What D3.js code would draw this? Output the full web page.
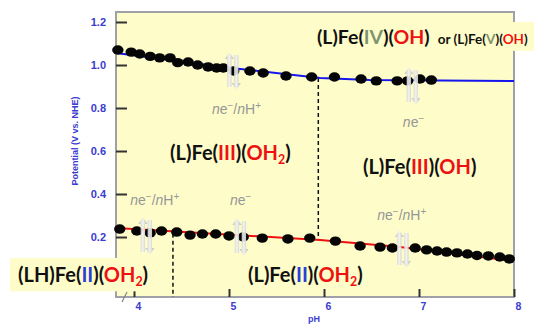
<!DOCTYPE html>
<html>
<head>
<meta charset="utf-8" />
<script src="https://d3js.org/d3.v7.min.js"></script>
<style>
  body { margin: 0; background: #fff; }
</style>
</head>
<body>
<div id="chart"></div>
<script>
// data
const xTicks = [4, 5, 6, 7, 8];
const yTicks = [0.2, 0.4, 0.6, 0.8, 1.0, 1.2];

const upperPH = [3.83, 3.97, 4.06, 4.17, 4.27, 4.38, 4.46, 4.57, 4.67, 4.78, 4.87, 4.94, 5.05, 5.22, 5.36, 5.60, 5.87, 6.11, 6.39, 6.55, 6.77, 6.88, 7.01, 7.13];
const upperE  = [1.070, 1.060, 1.051, 1.040, 1.033, 1.033, 1.011, 1.014, 1.000, 0.991, 0.986, 0.986, 0.972, 0.972, 0.963, 0.949, 0.944, 0.944, 0.935, 0.926, 0.926, 0.926, 0.935, 0.930];

const lowerPH = [3.85, 4.03, 4.17, 4.29, 4.45, 4.59, 4.72, 4.86, 5.00, 5.15, 5.35, 5.62, 5.85, 6.12, 6.38, 6.59, 6.72, 6.96, 7.08, 7.19, 7.29, 7.40, 7.51, 7.61, 7.73, 7.85, 7.95];
const lowerE  = [0.237, 0.228, 0.219, 0.228, 0.223, 0.209, 0.214, 0.214, 0.205, 0.200, 0.195, 0.191, 0.195, 0.181, 0.158, 0.153, 0.149, 0.149, 0.140, 0.135, 0.130, 0.126, 0.121, 0.114, 0.112, 0.107, 0.098];

const bluePH = [3.81, 4.98, 5.96, 6.48, 8.0];
const blueE  = [1.056, 0.988, 0.940, 0.930, 0.926];
const redPH  = [3.81, 5.96, 6.80, 8.0];
const redE   = [0.242, 0.186, 0.153, 0.088];

const dashPH  = [5.94, 4.41];
const dashTop = [0.940, 0.215];
const dashBot = [0.187, -0.079];

const arrowPH = [5.04, 6.93, 4.13, 5.12, 6.83];
const arrowE  = [0.972, 0.902, 0.205, 0.200, 0.144];

const stepText = ["ne−/nH+", "ne−", "ne−/nH+", "ne−", "ne−/nH+"];
const stepPH   = [4.82, 6.83, 3.96, 5.01, 6.56];
const stepE    = [0.772, 0.712, 0.349, 0.349, 0.279];
</script>
<script>
const W = 546, H = 324;
const margin = {top: 12, right: 32, bottom: 27, left: 116};

const svg = d3.select("#chart").append("svg")
    .attr("width", W).attr("height", H);

const x = d3.scaleLinear().domain([3.8105, 8]).range([margin.left, W - margin.right]);
const y = d3.scaleLinear().domain([-0.079, 1.2465]).range([H - margin.bottom, margin.top]);

const blueTxt = "#3b3bd0";
const bg = "#fefdca";

// plot background
svg.append("rect")
    .attr("x", margin.left).attr("y", margin.top)
    .attr("width", W - margin.right - margin.left)
    .attr("height", H - margin.bottom - margin.top)
    .attr("fill", bg);

// frame
svg.append("rect")
    .attr("x", margin.left).attr("y", margin.top)
    .attr("width", W - margin.right - margin.left)
    .attr("height", H - margin.bottom - margin.top)
    .attr("fill", "none").attr("stroke", "#a0a0a8").attr("stroke-width", 2);

// axes
const yAxis = svg.append("g")
    .attr("transform", `translate(${margin.left},0)`)
    .call(d3.axisLeft(y).tickValues(yTicks).tickFormat(d3.format(".1f")).tickSize(-11).tickPadding(10));
yAxis.select(".domain").remove();
yAxis.selectAll("line").attr("stroke", "#333").attr("stroke-width", 2);
yAxis.selectAll("text").attr("fill", blueTxt).attr("font-family", "Liberation Sans, Arial, sans-serif")
    .attr("font-weight", "bold").attr("font-size", 11);

const xAxis = svg.append("g")
    .attr("transform", `translate(0,${H - margin.bottom})`)
    .call(d3.axisBottom(x).tickValues(xTicks).tickFormat(d3.format("d")).tickSize(-8).tickPadding(6));
xAxis.select(".domain").remove();
xAxis.selectAll("line").attr("stroke", "#333").attr("stroke-width", 2);
xAxis.selectAll("text").attr("fill", blueTxt).attr("font-family", "Liberation Sans, Arial, sans-serif")
    .attr("font-weight", "bold").attr("font-size", 10.5).attr("dx", 4);

// axis break mark
svg.append("line")
    .attr("x1", margin.left + 6).attr("y1", H - margin.bottom + 5)
    .attr("x2", margin.left + 11).attr("y2", H - margin.bottom - 5)
    .attr("stroke", "#888").attr("stroke-width", 1.2);

svg.append("text")
    .attr("x", 314).attr("y", 322)
    .attr("text-anchor", "middle")
    .attr("fill", blueTxt).attr("font-family", "Liberation Sans, Arial, sans-serif")
    .attr("font-weight", "bold").attr("font-size", 9)
    .text("pH");

svg.append("text")
    .attr("transform", "translate(78,141) rotate(-90)")
    .attr("text-anchor", "middle")
    .attr("fill", blueTxt).attr("font-family", "Liberation Sans, Arial, sans-serif")
    .attr("font-weight", "bold").attr("font-size", 9)
    .text("Potential (V vs. NHE)");

// dashed dividers
dashPH.forEach((p, i) => {
  svg.append("line")
      .attr("x1", x(p)).attr("x2", x(p))
      .attr("y1", y(dashTop[i])).attr("y2", y(dashBot[i]))
      .attr("stroke", "#111").attr("stroke-width", 1.5)
      .attr("stroke-dasharray", "4,3");
});

// fitted lines
const line = d3.line().x(d => x(d[0])).y(d => y(d[1]));
svg.append("path")
    .datum(bluePH.map((p, i) => [p, blueE[i]]))
    .attr("d", line).attr("fill", "none")
    .attr("stroke", "#1515ee").attr("stroke-width", 2);
svg.append("path")
    .datum(redPH.map((p, i) => [p, redE[i]]))
    .attr("d", line).attr("fill", "none")
    .attr("stroke", "#ee1111").attr("stroke-width", 2);

// data points
function dots(ph, e) {
  svg.append("g").selectAll("ellipse")
    .data(ph.map((p, i) => [p, e[i]]))
    .join("ellipse")
      .attr("cx", d => x(d[0])).attr("cy", d => y(d[1]))
      .attr("rx", 5.7).attr("ry", 4.7)
      .attr("fill", "#050505");
}
dots(upperPH, upperE);
dots(lowerPH, lowerE);

// double arrows
const defs = svg.append("defs");
const grad = defs.append("linearGradient").attr("id", "arrowGrad")
    .attr("x1", "0").attr("x2", "1").attr("y1", "0").attr("y2", "0");
grad.append("stop").attr("offset", "0%").attr("stop-color", "#b8b8b8");
grad.append("stop").attr("offset", "50%").attr("stop-color", "#f4f4f4");
grad.append("stop").attr("offset", "100%").attr("stop-color", "#b0b0b0");

function arrowPath(cx, top, bot, up) {
  const sw = 2.2, hw = 4.5, hl = 7;
  if (up) {
    return `M${cx},${top} L${cx + hw},${top + hl} L${cx + sw},${top + hl} L${cx + sw},${bot} ` +
           `L${cx - sw},${bot} L${cx - sw},${top + hl} L${cx - hw},${top + hl} Z`;
  }
  return `M${cx},${bot} L${cx + hw},${bot - hl} L${cx + sw},${bot - hl} L${cx + sw},${top} ` +
         `L${cx - sw},${top} L${cx - sw},${bot - hl} L${cx - hw},${bot - hl} Z`;
}
arrowPH.forEach((p, i) => {
  const cx = x(p), cy = y(arrowE[i]);
  svg.append("path").attr("d", arrowPath(cx - 3.5, cy - 19, cy + 16, true))
      .attr("fill", "url(#arrowGrad)").attr("opacity", 0.9);
  svg.append("path").attr("d", arrowPath(cx + 3.5, cy - 16, cy + 19, false))
      .attr("fill", "url(#arrowGrad)").attr("opacity", 0.9);
});

// step labels (ne-/nH+)
stepText.forEach((t, i) => {
  const tx = svg.append("text")
      .attr("x", x(stepPH[i])).attr("y", y(stepE[i]))
      .attr("fill", "#979797")
      .attr("font-family", "Liberation Sans, Arial, sans-serif")
      .attr("font-size", 14);
  const parts = t === "ne−" ? [["n", true], ["e", false], ["−", false, true]]
      : [["n", true], ["e", false], ["−", false, true], ["/", false], ["n", true], ["H", false], ["+", false, true]];
  let raised = false;
  parts.forEach(([s, it, sup]) => {
    const ts = tx.append("tspan").text(s);
    if (it) ts.attr("font-style", "italic");
    if (sup && !raised) { ts.attr("dy", -5).attr("font-size", 10); raised = true; }
    else if (sup) { ts.attr("font-size", 10); }
    else if (raised) { ts.attr("dy", 5); raised = false; }
  });
});

// species labels
const black = "#111", red = "#ee1111", blueN = "#2a3fd8", grayN = "#7e9572";
const fam = "Lato, 'Open Sans', sans-serif";

function species(segs, px, py, size, box) {
  const g = svg.append("g");
  const rect = g.append("rect").attr("fill", bg);
  const tx = g.append("text")
      .attr("x", px).attr("y", py)
      .attr("font-family", fam).attr("font-weight", "bold")
      .attr("font-size", size);
  let lowered = false;
  segs.forEach(s => {
    const ts = tx.append("tspan").text(s.t).attr("fill", s.c);
    if (s.fs) ts.attr("font-size", s.fs);
    if (s.dx) ts.attr("dx", s.dx);
    if (s.sub) { ts.attr("font-size", size * 0.62).attr("dy", size * 0.22); lowered = true; }
    else if (lowered) { ts.attr("dy", -size * 0.22); lowered = false; }
  });
  if (box) {
    const b = tx.node().getBBox();
    rect.attr("x", b.x - box[0]).attr("y", b.y - box[1])
        .attr("width", b.width + box[0] + box[2]).attr("height", b.height + box[1] + box[3]);
  } else rect.remove();
}

species([
  {t: "(L)Fe(", c: black}, {t: "IV", c: grayN}, {t: ")(", c: black}, {t: "OH", c: red}, {t: ")", c: black},
  {t: "or (L)Fe(", c: black, fs: 13.5, dx: 8}, {t: "V", c: grayN, fs: 13.5}, {t: ")(", c: black, fs: 13.5},
  {t: "OH", c: red, fs: 13.5}, {t: ")", c: black, fs: 13.5}
], x(5.926), y(1.098), 19.5, [8, 3, 6, 3]);

species([
  {t: "(L)Fe(", c: black}, {t: "III", c: red}, {t: ")(", c: black}, {t: "OH", c: red},
  {t: "2", c: red, sub: true}, {t: ")", c: black}
], x(4.38), y(0.558), 20);

species([
  {t: "(L)Fe(", c: black}, {t: "III", c: red}, {t: ")(", c: black}, {t: "OH", c: red}, {t: ")", c: black}
], x(6.41), y(0.493), 20);

species([
  {t: "(L)Fe(", c: black}, {t: "II", c: blueN}, {t: ")(", c: black}, {t: "OH", c: red},
  {t: "2", c: red, sub: true}, {t: ")", c: black}
], x(5.2), y(-0.009), 20);

species([
  {t: "(LH)Fe(", c: black}, {t: "II", c: blueN}, {t: ")(", c: black}, {t: "OH", c: red},
  {t: "2", c: red, sub: true}, {t: ")", c: black}
], x(2.779), y(-0.009), 20, [8, 4, 6, 2]);
</script>
</body>
</html>
